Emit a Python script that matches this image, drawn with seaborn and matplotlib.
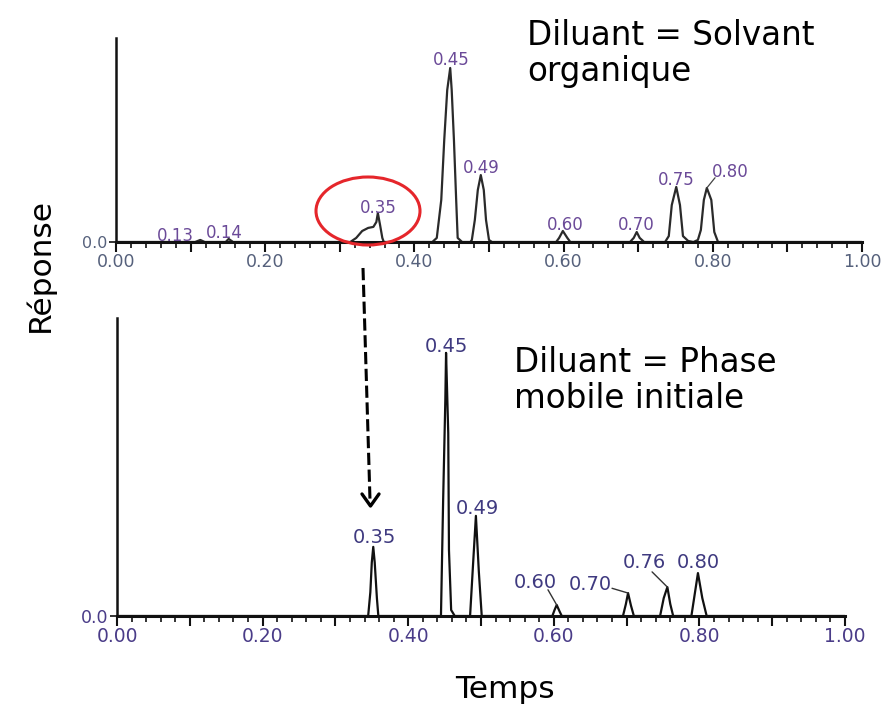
import matplotlib
matplotlib.use('Agg')
import pandas as pd
import seaborn as sns
from matplotlib import pyplot as plt
from matplotlib.lines import Line2D
from matplotlib.patches import Ellipse
from matplotlib.ticker import MultipleLocator, FuncFormatter

# chromatogramme du haut : diluant = solvant organique (reponse relative)
haut_temps = [0.000, 0.106, 0.113, 0.119, 0.147, 0.151, 0.157,
              0.314, 0.322, 0.330, 0.338, 0.345, 0.349, 0.351, 0.354, 0.357, 0.359,
              0.424, 0.430, 0.436, 0.440, 0.444, 0.448, 0.450, 0.453, 0.456, 0.458, 0.464,
              0.475, 0.477, 0.481, 0.485, 0.489, 0.493, 0.496, 0.500, 0.504,
              0.590, 0.594, 0.599, 0.605, 0.609,
              0.689, 0.694, 0.698, 0.702, 0.708,
              0.736, 0.741, 0.745, 0.751, 0.756, 0.760, 0.767, 0.774,
              0.780, 0.784, 0.788, 0.792, 0.798, 0.802, 0.807,
              1.000]
haut_reponse = [0.0, 0.0, 0.010, 0.0, 0.0, 0.015, 0.0,
                0.0, 0.020, 0.054, 0.069, 0.074, 0.098, 0.142, 0.083, 0.020, 0.0,
                0.0, 0.020, 0.206, 0.500, 0.745, 0.853, 0.745, 0.500, 0.206, 0.020, 0.0,
                0.0, 0.010, 0.108, 0.255, 0.328, 0.255, 0.108, 0.010, 0.0,
                0.0, 0.020, 0.054, 0.020, 0.0,
                0.0, 0.020, 0.049, 0.020, 0.0,
                0.0, 0.029, 0.181, 0.270, 0.181, 0.029, 0.005, 0.0,
                0.010, 0.059, 0.206, 0.265, 0.206, 0.049, 0.0,
                0.0]

# chromatogramme du bas : diluant = phase mobile initiale
bas_temps = [0.000,
             0.345, 0.348, 0.350, 0.352, 0.354, 0.357, 0.359,
             0.445, 0.448, 0.451, 0.452, 0.455, 0.456, 0.459, 0.464,
             0.485, 0.489, 0.493, 0.497, 0.501,
             0.598, 0.601, 0.604, 0.608, 0.611,
             0.695, 0.699, 0.702, 0.706, 0.710,
             0.746, 0.751, 0.756, 0.760, 0.764,
             0.789, 0.794, 0.798, 0.804, 0.810,
             1.000]
bas_reponse = [0.0,
               0.0, 0.080, 0.180, 0.232, 0.180, 0.060, 0.0,
               0.0, 0.389, 0.725, 0.883, 0.614, 0.221, 0.020, 0.0,
               0.0, 0.170, 0.336, 0.150, 0.0,
               0.0, 0.020, 0.037, 0.015, 0.0,
               0.0, 0.040, 0.077, 0.035, 0.0,
               0.0, 0.060, 0.097, 0.040, 0.0,
               0.0, 0.080, 0.144, 0.060, 0.0,
               0.0]

haut_pics = ["0.13", "0.14", "0.35", "0.45", "0.49", "0.60", "0.70", "0.75", "0.80"]
bas_pics = ["0.35", "0.45", "0.49", "0.60", "0.70", "0.76", "0.80"]

# placement des etiquettes (coordonnees donnees) et traits de rappel
haut_pos = [(0.080, 0.030), (0.145, 0.045), (0.351, 0.167), (0.449, 0.890), (0.489, 0.365),
            (0.602, 0.085), (0.698, 0.085), (0.751, 0.305), (0.823, 0.345)]
haut_traits = {8: ((0.792, 0.265), (0.803, 0.315))}
bas_pos = [(0.353, 0.265), (0.452, 0.903), (0.4945, 0.362), (0.574, 0.114),
           (0.650, 0.107), (0.725, 0.178), (0.798, 0.178)]
bas_traits = {3: ((0.592, 0.088), (0.604, 0.037)),
              4: ((0.680, 0.093), (0.702, 0.077)),
              5: ((0.735, 0.148), (0.756, 0.097))}

sns.set_style("white")
plt.rcParams['font.family'] = ['DejaVu Sans']
plt.rcParams['text.color'] = 'black'

fig = plt.figure(figsize=(8.94, 7.14), dpi=100)
ax_h = fig.add_axes([116 / 894, 1 - 242 / 714, 746 / 894, 204 / 714])
ax_b = fig.add_axes([117 / 894, 1 - 616 / 714, 728 / 894, 298 / 714])

df_h = pd.DataFrame({"Temps": haut_temps, "Réponse": haut_reponse})
df_b = pd.DataFrame({"Temps": bas_temps, "Réponse": bas_reponse})

sns.lineplot(data=df_h, x="Temps", y="Réponse", ax=ax_h, color="#2a2a2a",
             lw=1.6, estimator=None, sort=False)
sns.lineplot(data=df_b, x="Temps", y="Réponse", ax=ax_b, color="#111111",
             lw=1.6, estimator=None, sort=False)


def fmt(v, p):
    return f"{v:.2f}" if round(v * 10) % 2 == 0 else ""


for ax, tick_col, tick_fs in [(ax_h, "#56617c", 12.5), (ax_b, "#4a3c88", 13.5)]:
    ax.set_xlim(0, 1.0)
    ax.set_ylim(0, 1.0)
    ax.patch.set_alpha(0)
    for s in ["top", "right"]:
        ax.spines[s].set_visible(False)
    ax.spines["bottom"].set_linewidth(2.2)
    ax.spines["left"].set_linewidth(1.8)
    ax.spines["bottom"].set_color("#111111")
    ax.spines["left"].set_color("#111111")
    ax.xaxis.set_major_locator(MultipleLocator(0.1))
    ax.xaxis.set_minor_locator(MultipleLocator(0.02))
    ax.xaxis.set_major_formatter(FuncFormatter(fmt))
    ax.set_yticks([0])
    ax.set_yticklabels(["0.0"])
    ax.tick_params(axis="x", which="major", direction="out", length=7, width=1.5,
                   colors="#111111", labelcolor=tick_col, labelsize=tick_fs, pad=1, bottom=True)
    ax.tick_params(axis="x", which="minor", direction="out", length=4, width=1.2,
                   colors="#111111", bottom=True)
    ax.tick_params(axis="y", direction="out", length=5, width=1.2, colors="#111111",
                   labelcolor=tick_col, labelsize=tick_fs - 1, pad=1, left=True)
    ax.set_xlabel("")
    ax.set_ylabel("")

for txt, (x, y) in zip(haut_pics, haut_pos):
    ax_h.text(x, y, txt, ha="center", va="center", fontsize=12, color="#6b4a98", clip_on=False)
for i, (p0, p1) in haut_traits.items():
    ax_h.plot([p0[0], p1[0]], [p0[1], p1[1]], color="#444444", lw=0.9, clip_on=False)

for txt, (x, y) in zip(bas_pics, bas_pos):
    ax_b.text(x, y, txt, ha="center", va="center", fontsize=14, color="#3f3a80", clip_on=False)
for i, (p0, p1) in bas_traits.items():
    ax_b.plot([p0[0], p1[0]], [p0[1], p1[1]], color="#333333", lw=1.0, clip_on=False)

# cercle rouge autour du pic 0.35
fig.patches.append(Ellipse((368 / 894, 1 - 211 / 714), 104 / 894, 68 / 714,
                           transform=fig.transFigure, fill=False, edgecolor="#e5262b", lw=2.2))

# fleche pointillee vers le pic 0.35 du bas
fig.add_artist(Line2D([363 / 894, 370 / 894], [1 - 268 / 714, 1 - 500 / 714],
                      transform=fig.transFigure, color="black", lw=2.2, ls=(0, (4, 1.5))))
fig.add_artist(Line2D([362 / 894, 370.5 / 894, 379 / 894],
                      [1 - 494 / 714, 1 - 506 / 714, 1 - 494 / 714],
                      transform=fig.transFigure, color="black", lw=2.4))

fig.text(527 / 894, 1 - 45 / 714, "Diluant = Solvant", fontsize=23.5, ha="left", va="baseline")
fig.text(527 / 894, 1 - 81 / 714, "organique", fontsize=23.5, ha="left", va="baseline")
fig.text(514 / 894, 1 - 372 / 714, "Diluant = Phase", fontsize=23.5, ha="left", va="baseline")
fig.text(514 / 894, 1 - 408 / 714, "mobile initiale", fontsize=23.5, ha="left", va="baseline")

fig.text(40 / 894, 1 - 265 / 714, "Réponse", fontsize=22.5, rotation=90, ha="center", va="center")
fig.text(505 / 894, 1 - 690 / 714, "Temps", fontsize=22.5, ha="center", va="center")

plt.savefig("out.png", dpi=100)
